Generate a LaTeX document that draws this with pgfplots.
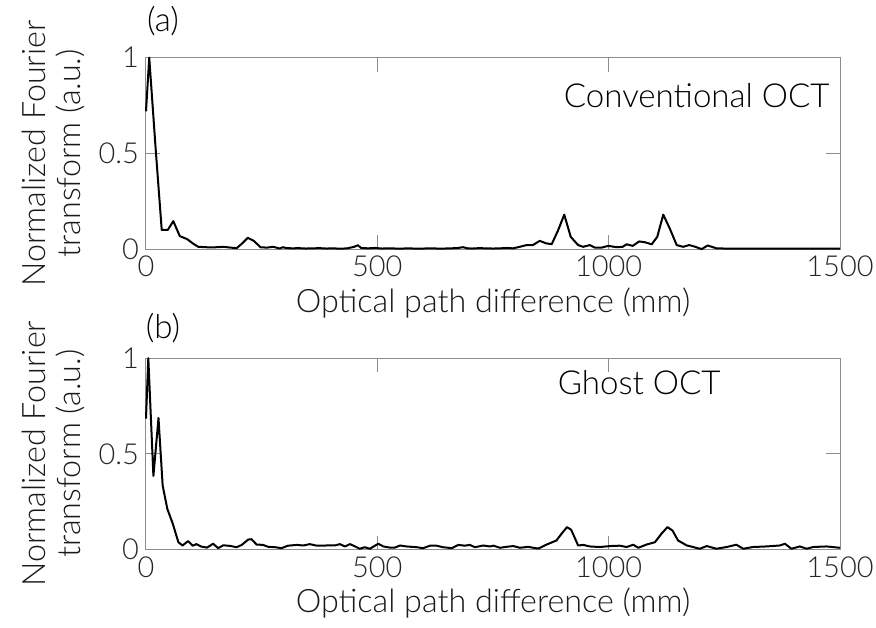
\documentclass[border=0pt]{standalone}
\usepackage{fontspec}
\setmainfont{Lato}[UprightFont={* Light}]
\usepackage{pgfplots}
\pgfplotsset{compat=1.18}

\pgfplotsset{
  octaxis/.style={
    scale only axis, width=347bp, height=95.7bp,
    xmin=0, xmax=1500, ymin=0, ymax=1,
    xtick={0,500,1000,1500}, ytick={0,0.5,1},
    tick align=inside, major tick length=7bp,
    axis line style={black!45, line width=0.5bp},
    every tick/.style={black!45, line width=0.5bp},
    tick label style={font=\fontsize{14.5}{16}\selectfont, text=black!85},
    /pgf/number format/assume math mode=true,
    /pgf/number format/1000 sep={},
    xlabel={Optical path difference (mm)},
    ylabel={Normalized Fourier\\transform (a.u.)},
    label style={font=\fontsize{16.2}{17.5}\selectfont, text=black!90},
    xlabel style={at={(axis description cs:0.5,-0.282)}, anchor=center},
    ylabel style={at={(axis description cs:-0.134,0.5)}, anchor=center, align=center},
    clip=false,
  },
  octline/.style={black, line width=1bp, line join=round},
}

\begin{document}
\begin{tikzpicture}
\useasboundingbox (-73bp,-285.15bp) rectangle (365bp,28.85bp);

% (a) conventional OCT
\begin{axis}[octaxis, at={(0,0)}, anchor=north west]
\addplot[octline] coordinates {
 (0,0.72) (7,1.0) (21,0.52) (34,0.10) (47,0.10) (59,0.146) (73,0.068) (89,0.052)
 (101,0.03) (113,0.012) (128,0.01) (140,0.009) (155,0.01) (167,0.012) (182,0.008)
 (196,0.005) (208,0.03) (220,0.059) (233,0.043) (248,0.009) (262,0.008) (275,0.012)
 (289,0.003) (296,0.01) (302,0.006) (316,0.004) (330,0.005) (345,0.003) (360,0.004)
 (375,0.005) (390,0.003) (405,0.004) (420,0.002) (435,0.004) (450,0.012) (458,0.02)
 (465,0.006) (480,0.004) (495,0.006) (510,0.003) (525,0.004) (540,0.003) (555,0.003)
 (570,0.004) (585,0.002) (600,0.003) (615,0.004) (630,0.003) (645,0.003) (660,0.004)
 (675,0.006) (685,0.01) (695,0.004) (705,0.003) (720,0.005) (735,0.004) (750,0.003)
 (765,0.004) (780,0.006) (793,0.004) (808,0.012) (823,0.021) (836,0.021) (851,0.043)
 (865,0.03) (877,0.026) (891,0.1) (904,0.18) (918,0.064) (934,0.021) (945,0.012)
 (959,0.021) (970,0.008) (985,0.008) (999,0.017) (1017,0.01) (1030,0.012) (1039,0.025)
 (1052,0.017) (1066,0.04) (1078,0.036) (1093,0.025) (1105,0.064) (1118,0.18)
 (1132,0.108) (1147,0.021) (1161,0.012) (1174,0.021) (1186,0.013) (1201,0.0)
 (1214,0.019) (1233,0.004) (1250,0.003) (1270,0.002) (1290,0.003) (1310,0.003)
 (1330,0.002) (1350,0.003) (1370,0.002) (1390,0.003) (1410,0.002) (1430,0.003)
 (1450,0.002) (1470,0.003) (1500,0.002)
};
\node[anchor=base west, font=\fontsize{16.6}{17.5}\selectfont] at (axis cs:888,0.74) {Conventional OCT};
\node[font=\fontsize{16.6}{17.5}\selectfont] at (axis description cs:0.0245,1.19) {(a)};
\end{axis}

% (b) ghost OCT
\begin{axis}[octaxis, at={(0,-150.2bp)}, anchor=north west]
\addplot[octline] coordinates {
 (0,0.684) (5,1.0) (16,0.384) (27,0.687) (36,0.335) (46,0.213) (58,0.134) (70,0.038)
 (79,0.021) (91,0.044) (101,0.02) (109,0.028) (120,0.015) (132,0.01) (145,0.03)
 (156,0.007) (167,0.022) (181,0.019) (196,0.012) (207,0.024) (221,0.052) (228,0.054)
 (239,0.026) (253,0.024) (264,0.014) (279,0.012) (293,0.007) (307,0.02) (326,0.024)
 (340,0.021) (354,0.028) (369,0.02) (390,0.021) (408,0.021) (419,0.028) (430,0.016)
 (441,0.028) (452,0.016) (462,0.004) (473,0.012) (484,0.004) (495,0.02) (502,0.03)
 (513,0.016) (527,0.01) (538,0.01) (549,0.021) (563,0.016) (585,0.012) (599,0.007)
 (614,0.02) (628,0.02) (642,0.012) (661,0.007) (675,0.024) (689,0.02) (700,0.024)
 (711,0.012) (729,0.021) (743,0.016) (751,0.02) (765,0.009) (779,0.014) (794,0.018)
 (808,0.009) (826,0.014) (837,0.009) (848,0.005) (866,0.026) (887,0.047) (898,0.082)
 (910,0.117) (919,0.103) (926,0.065) (934,0.021) (945,0.024) (959,0.016) (981,0.013)
 (1003,0.018) (1024,0.02) (1039,0.013) (1053,0.025) (1064,0.009) (1082,0.026)
 (1100,0.038) (1114,0.082) (1127,0.117) (1138,0.099) (1150,0.047) (1169,0.021)
 (1197,0.004) (1212,0.018) (1233,0.004) (1255,0.013) (1276,0.025) (1291,0.004)
 (1312,0.013) (1341,0.016) (1370,0.021) (1381,0.03) (1395,0.004) (1413,0.016)
 (1428,0.004) (1442,0.013) (1471,0.016) (1500,0.009)
};
\node[anchor=base west, font=\fontsize{16.6}{17.5}\selectfont] at (axis cs:875,0.81) {Ghost OCT};
\node[font=\fontsize{16.6}{17.5}\selectfont] at (axis description cs:0.0245,1.157) {(b)};
\end{axis}
\end{tikzpicture}
\end{document}
